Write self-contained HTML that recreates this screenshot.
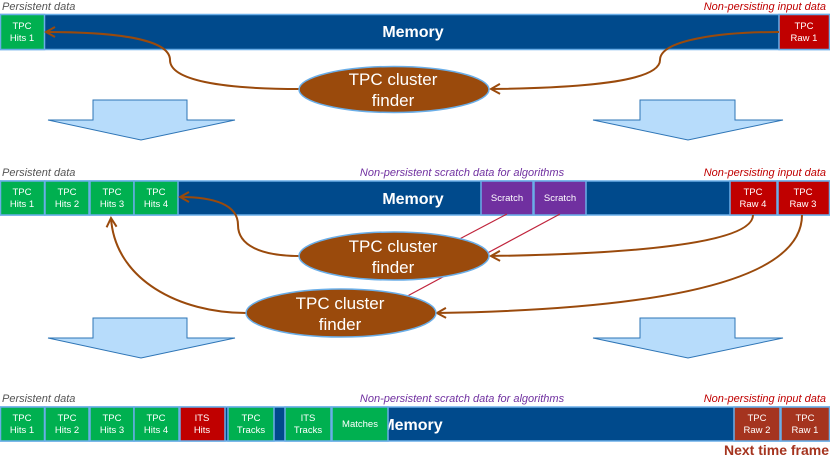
<!DOCTYPE html>
<html><head><meta charset="utf-8"><style>
body{margin:0;background:#fff}
svg{display:block;font-family:"Liberation Sans",sans-serif}
</style></head><body>
<svg width="830" height="457" viewBox="0 0 830 457" xmlns="http://www.w3.org/2000/svg">
<defs>
<marker id="ah" markerWidth="12" markerHeight="12" refX="10" refY="6" orient="auto" markerUnits="userSpaceOnUse">
<path d="M1,1 L10,6 L1,11" fill="none" stroke="#9a4a0c" stroke-width="2"/>
</marker>
</defs>
<g font-style="italic" font-size="11">
<text x="2" y="10" fill="#555">Persistent data</text>
<text x="826" y="10" fill="#c00000" text-anchor="end">Non-persisting input data</text>
<text x="2" y="176" fill="#555">Persistent data</text>
<text x="462" y="176" fill="#7030a0" text-anchor="middle">Non-persistent scratch data for algorithms</text>
<text x="826" y="176" fill="#c00000" text-anchor="end">Non-persisting input data</text>
<text x="2" y="402" fill="#555">Persistent data</text>
<text x="462" y="402" fill="#7030a0" text-anchor="middle">Non-persistent scratch data for algorithms</text>
<text x="826" y="402" fill="#c00000" text-anchor="end">Non-persisting input data</text>
</g>
<g stroke="#6aaee8" stroke-width="1.5">
<rect x="0.5" y="14.5" width="829" height="35" fill="#004a8c"/>
<rect x="0.5" y="14.5" width="44" height="35" fill="#00b050"/>
<rect x="779" y="14.5" width="50.5" height="35" fill="#c00000"/>
<rect x="0.5" y="181" width="829" height="34" fill="#004a8c"/>
<rect x="0.5" y="181" width="44" height="34" fill="#00b050"/>
<rect x="45" y="181" width="44" height="34" fill="#00b050"/>
<rect x="90" y="181" width="44" height="34" fill="#00b050"/>
<rect x="134" y="181" width="44" height="34" fill="#00b050"/>
<rect x="481" y="181" width="52" height="34" fill="#7030a0"/>
<rect x="534" y="181" width="52" height="34" fill="#7030a0"/>
<rect x="730" y="181" width="47" height="34" fill="#c00000"/>
<rect x="778" y="181" width="51.5" height="34" fill="#c00000"/>
<rect x="0.5" y="407" width="829" height="34" fill="#004a8c"/>
<rect x="0.5" y="407" width="44" height="34" fill="#00b050"/>
<rect x="45" y="407" width="44" height="34" fill="#00b050"/>
<rect x="90" y="407" width="44" height="34" fill="#00b050"/>
<rect x="134" y="407" width="45" height="34" fill="#00b050"/>
<rect x="180" y="407" width="45" height="34" fill="#c00000"/>
<rect x="228" y="407" width="46" height="34" fill="#00b050"/>
<rect x="285" y="407" width="46" height="34" fill="#00b050"/>
<rect x="734" y="407" width="46" height="34" fill="#a5341f"/>
<rect x="781" y="407" width="48.5" height="34" fill="#a5341f"/>
</g>
<g fill="#fff" font-size="9.5" text-anchor="middle">
<text x="22" y="29">TPC</text><text x="22" y="41">Hits 1</text>
<text x="804" y="29">TPC</text><text x="804" y="41">Raw 1</text>
<text x="22" y="195">TPC</text><text x="22" y="207">Hits 1</text>
<text x="67" y="195">TPC</text><text x="67" y="207">Hits 2</text>
<text x="112" y="195">TPC</text><text x="112" y="207">Hits 3</text>
<text x="156" y="195">TPC</text><text x="156" y="207">Hits 4</text>
<text x="507" y="201">Scratch</text><text x="560" y="201">Scratch</text>
<text x="753" y="195">TPC</text><text x="753" y="207">Raw 4</text>
<text x="803" y="195">TPC</text><text x="803" y="207">Raw 3</text>
<text x="22" y="421">TPC</text><text x="22" y="433">Hits 1</text>
<text x="67" y="421">TPC</text><text x="67" y="433">Hits 2</text>
<text x="112" y="421">TPC</text><text x="112" y="433">Hits 3</text>
<text x="156" y="421">TPC</text><text x="156" y="433">Hits 4</text>
<text x="202" y="421">ITS</text><text x="202" y="433">Hits</text>
<text x="251" y="421">TPC</text><text x="251" y="433">Tracks</text>
<text x="308" y="421">ITS</text><text x="308" y="433">Tracks</text>
<text x="757" y="421">TPC</text><text x="757" y="433">Raw 2</text>
<text x="805" y="421">TPC</text><text x="805" y="433">Raw 1</text>
</g>
<g fill="#fff" font-size="16" font-weight="bold" text-anchor="middle">
<text x="413" y="37">Memory</text>
<text x="413" y="204">Memory</text>
<text x="412" y="430">Memory</text>
</g>
<rect x="332" y="407" width="56" height="34" fill="#00b050" stroke="#6aaee8" stroke-width="1.5"/>
<text x="360" y="427" fill="#fff" font-size="9.5" text-anchor="middle">Matches</text>
<text x="829" y="455" fill="#a5341f" font-size="14" font-weight="bold" text-anchor="end">Next time frame</text>
<g fill="#b7dcfb" stroke="#2e75b6" stroke-width="1">
<path d="M93,100 H187 V120 H235 L141,140 L48,120 H93 Z"/>
<path d="M640,100 H735 V120 H783 L688,140 L593,120 H640 Z"/>
<path d="M93,318 H187 V338 H235 L141,358 L48,338 H93 Z"/>
<path d="M640,318 H735 V338 H783 L688,358 L593,338 H640 Z"/>
</g>
<g stroke="#c0243c" stroke-width="1.2">
<line x1="507" y1="214" x2="450" y2="244"/>
<line x1="560" y1="214" x2="400" y2="300"/>
</g>
<g fill="none" stroke="#9a4a0c" stroke-width="2" marker-end="url(#ah)">
<path d="M300,89 C220,89 170,80 170,60 C170,40 120,32 46,32"/>
<path d="M779,32 C720,32 660,40 660,60 C660,82 580,88 491,89"/>
<path d="M300,256 C260,256 238,245 238,225 C238,205 215,197 180,197"/>
<path d="M246,313 C180,313 115,280 111,218"/>
<path d="M753,215 C753,245 620,254 491,256"/>
<path d="M802,215 C802,290 620,310 437,313"/>
</g>
<g fill="#9a4a0c" stroke="#6aaee8" stroke-width="1.5">
<ellipse cx="394" cy="89.5" rx="95" ry="23"/>
<ellipse cx="394" cy="256" rx="95" ry="24"/>
<ellipse cx="341" cy="313" rx="95" ry="24"/>
</g>
<g fill="#fff" font-size="17" text-anchor="middle">
<text x="393" y="85">TPC cluster</text><text x="393" y="106">finder</text>
<text x="393" y="252">TPC cluster</text><text x="393" y="273">finder</text>
<text x="340" y="309">TPC cluster</text><text x="340" y="330">finder</text>
</g>
</svg>
</body></html>
